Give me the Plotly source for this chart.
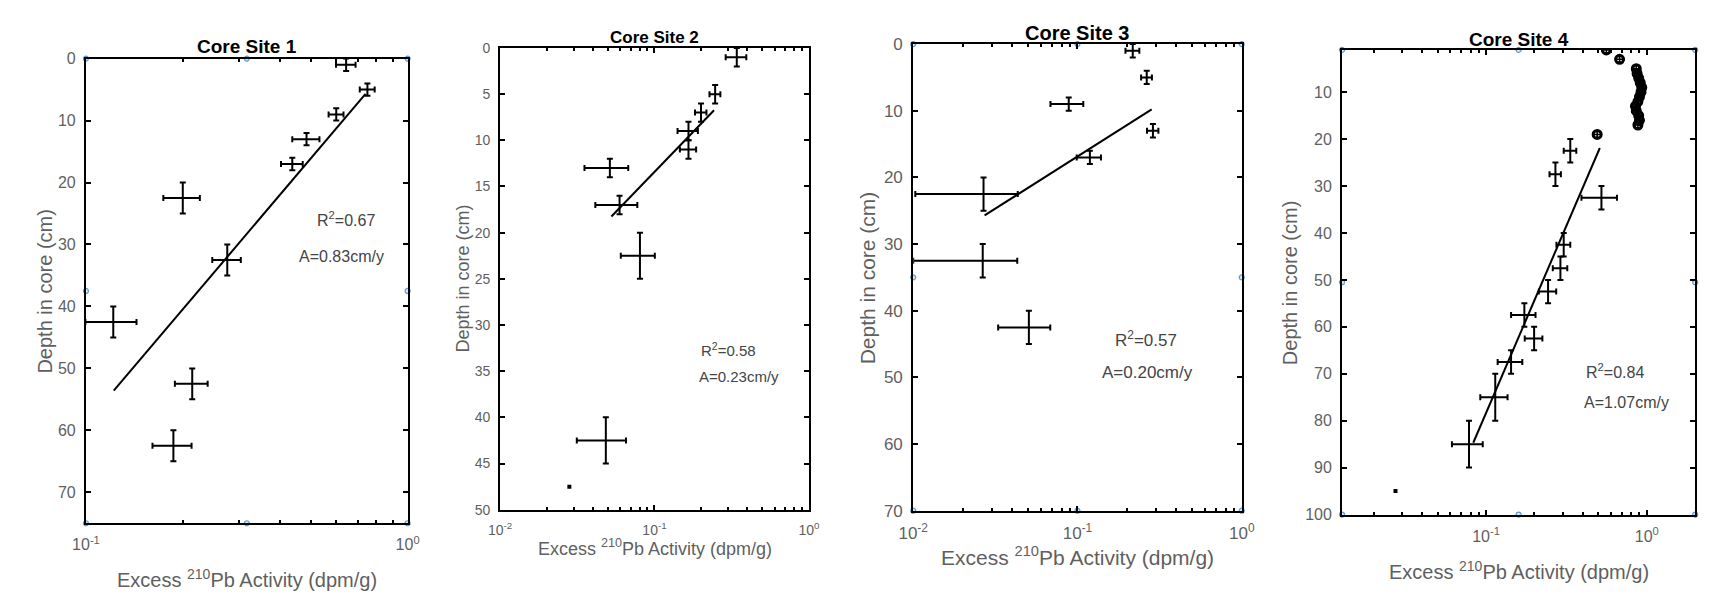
import math
import plotly.graph_objects as go

# ---------------- data ----------------
# Core Site 1
p1_x = [0.644, 0.75, 0.60, 0.485, 0.438, 0.20, 0.275, 0.1216, 0.214, 0.187]
p1_y = [1, 5, 9, 13, 17, 22.5, 32.5, 42.5, 52.5, 62.5]
p1_xerr = [0.045, 0.04, 0.032, 0.047, 0.034, 0.026, 0.028, 0.022, 0.025, 0.026]
p1_yerr = [1, 1, 1, 1, 1, 2.5, 2.5, 2.5, 2.5, 2.5]
p1_fit_x = [0.122, 0.74]
p1_fit_y = [53.6, 5.7]

# Core Site 2
p2_x = [0.341, 0.247, 0.20, 0.166, 0.166, 0.0514, 0.0594, 0.0805, 0.0484]
p2_y = [1, 5, 7, 9, 11, 13, 17, 22.5, 42.5]
p2_xerr = [0.052, 0.02, 0.017, 0.025, 0.02, 0.0162, 0.018, 0.02, 0.017]
p2_yerr = [1, 1, 1, 1, 1, 1, 1, 2.5, 2.5]
p2_dot_x = [0.0281]
p2_dot_y = [47.5]
p2_fit_x = [0.0526, 0.243]
p2_fit_y = [18.25, 6.75]

# Core Site 3
p3_x = [0.217, 0.264, 0.0885, 0.288, 0.119, 0.0268, 0.0265, 0.0506]
p3_y = [1, 5, 9, 13, 17, 22.5, 32.5, 42.5]
p3_xerr = [0.021, 0.02, 0.02, 0.023, 0.02, 0.0165, 0.0165, 0.0177]
p3_yerr = [1, 1, 1, 1, 1, 2.5, 2.5, 2.5]
p3_fit_x = [0.0272, 0.283]
p3_fit_y = [25.7, 9.8]

# Core Site 4
p4_x = [0.334, 0.27, 0.522, 0.304, 0.29, 0.243, 0.173, 0.199, 0.143, 0.114, 0.0783]
p4_y = [22.5, 27.5, 32.5, 42.5, 47.5, 52.5, 57.5, 62.5, 67.5, 75, 85]
p4_xerr = [0.03, 0.022, 0.13, 0.03, 0.03, 0.03, 0.03, 0.025, 0.025, 0.022, 0.017]
p4_yerr = [2.5, 2.5, 2.5, 2.5, 2.5, 2.5, 2.5, 2.5, 2.5, 5, 5]
p4_circ_x = [0.56, 0.677, 0.86, 0.87, 0.89, 0.91, 0.93, 0.92, 0.90, 0.88, 0.85, 0.86, 0.89, 0.90, 0.88, 0.491]
p4_circ_y = [1, 3, 5, 6, 7, 8, 9, 10, 11, 12, 13, 14, 15, 16, 17, 19]
p4_circ_xerr = [0.03] * 16
p4_circ_yerr = [0.6] * 16
p4_dot_x = [0.0273]
p4_dot_y = [95]
p4_fit_x = [0.0832, 0.51]
p4_fit_y = [84.7, 21.9]

titles = ["Core Site 1", "Core Site 2", "Core Site 3", "Core Site 4"]
r2_text = ["R<sup>2</sup>=0.67", "R<sup>2</sup>=0.58", "R<sup>2</sup>=0.57", "R<sup>2</sup>=0.84"]
a_text = ["A=0.83cm/y", "A=0.23cm/y", "A=0.20cm/y", "A=1.07cm/y"]
x_label = "Excess <sup>210</sup>Pb Activity (dpm/g)"
y_label = "Depth in core (cm)"

x_ranges = [[0.1, 1.0], [0.01, 1.0], [0.01, 1.0], [0.0127, 2.0]]
y_ranges = [[0, 75], [0, 50], [0, 70], [1, 100]]
y_dticks = [10, 5, 10, 10]
y_tick0 = [0, 0, 0, 10]
x_major_ticks = [[0.1, 1.0], [0.01, 0.1, 1.0], [0.01, 0.1, 1.0], [0.1, 1.0]]
x_major_text = {0.01: "10<sup>-2</sup>", 0.1: "10<sup>-1</sup>", 1.0: "10<sup>0</sup>"}
minor_digits = [2, 3, 4, 5, 6, 7, 8, 9]
decades = [0.01, 0.1, 1.0]
handles = [True, False, True, True]

# ---------------- layout geometry (pixels) ----------------
W, H = 1712, 594
frames = [(64, 391, 43, 523), (485, 799, 32, 509), (905, 1239, 28, 510), (1341, 1700, 34, 514)]
title_y = [30, 21, 17, 23]
xlab_y = [580, 548, 557, 572]
ylab_x = [22, 447, 858, 1288]
scale = [1.0, 0.88, 1.04, 1.0]
r2_pos = [(0.807, 0.655), (0.739, 0.348), (0.71, 0.368), (0.774, 0.31)]
a_pos = [(0.794, 0.574), (0.774, 0.288), (0.713, 0.297), (0.805, 0.241)]

FONT = "Liberation Sans, Arial, sans-serif"
GRAY = "#5f5f5f"

fig = go.Figure()

def err_trace(x, y, xe, ye, k):
    return go.Scatter(
        x=x, y=y, mode="markers",
        marker=dict(size=2, color="black"),
        error_x=dict(type="data", array=xe, color="black", thickness=2, width=3),
        error_y=dict(type="data", array=ye, color="black", thickness=2, width=3),
        xaxis=f"x{k}", yaxis=f"y{k}", showlegend=False)

def line_trace(x, y, k):
    return go.Scatter(x=x, y=y, mode="lines", line=dict(color="black", width=2),
                      xaxis=f"x{k}", yaxis=f"y{k}", showlegend=False)

def dot_trace(x, y, k):
    return go.Scatter(x=x, y=y, mode="markers",
                      marker=dict(symbol="square", size=4, color="black"),
                      xaxis=f"x{k}", yaxis=f"y{k}", showlegend=False)

fig.add_trace(err_trace(p1_x, p1_y, p1_xerr, p1_yerr, ""))
fig.add_trace(line_trace(p1_fit_x, p1_fit_y, ""))
fig.add_trace(err_trace(p2_x, p2_y, p2_xerr, p2_yerr, 2))
fig.add_trace(dot_trace(p2_dot_x, p2_dot_y, 2))
fig.add_trace(line_trace(p2_fit_x, p2_fit_y, 2))
fig.add_trace(err_trace(p3_x, p3_y, p3_xerr, p3_yerr, 3))
fig.add_trace(line_trace(p3_fit_x, p3_fit_y, 3))
fig.add_trace(err_trace(p4_x, p4_y, p4_xerr, p4_yerr, 4))
fig.add_trace(go.Scatter(
    x=p4_circ_x, y=p4_circ_y, mode="markers",
    marker=dict(symbol="circle-open", size=8, color="black", line=dict(width=3, color="black")),
    error_x=dict(type="data", array=p4_circ_xerr, color="black", thickness=1.5, width=2),
    error_y=dict(type="data", array=p4_circ_yerr, color="black", thickness=1.5, width=2),
    xaxis="x4", yaxis="y4", showlegend=False))
fig.add_trace(dot_trace(p4_dot_x, p4_dot_y, 4))
fig.add_trace(line_trace(p4_fit_x, p4_fit_y, 4))

# selection-handle markers on the frames
for i in range(4):
    if not handles[i]:
        continue
    k = "" if i == 0 else str(i + 1)
    xl, xr = x_ranges[i]
    yb, yt = y_ranges[i]
    xm = 10 ** ((math.log10(xl) + math.log10(xr)) / 2)
    ym = (yb + yt) / 2
    hx = [xl, xm, xr, xl, xr, xl, xm, xr]
    hy = [yb, yb, yb, ym, ym, yt, yt, yt]
    fig.add_trace(go.Scatter(
        x=hx, y=hy, mode="markers", cliponaxis=False,
        marker=dict(symbol="circle", size=5, color="#d6e6f5", line=dict(color="#5b9bd5", width=1.2)),
        xaxis=f"x{k}", yaxis=f"y{k}", showlegend=False, hoverinfo="skip"))

layout = dict(
    width=W, height=H, margin=dict(l=0, r=0, t=0, b=0),
    paper_bgcolor="white", plot_bgcolor="white",
    font=dict(family=FONT, size=14, color=GRAY),
    showlegend=False,
)
annotations = []
for i in range(4):
    k = "" if i == 0 else str(i + 1)
    l, r, t, b = frames[i]
    s = scale[i]
    xl, xr = x_ranges[i]
    lo, hi = math.log10(xl), math.log10(xr)
    minor_vals = [d * m for d in decades for m in minor_digits
                  if lo <= math.log10(d * m) <= hi]
    axis_common = dict(showline=True, linecolor="black", linewidth=2, mirror="ticks",
                       ticks="inside", ticklen=5, tickwidth=1.5, tickcolor="black",
                       showgrid=False, zeroline=False,
                       tickfont=dict(family=FONT, size=round(16 * s), color=GRAY))
    layout[f"xaxis{k}"] = dict(
        domain=[l / W, r / W], anchor=f"y{k}", type="log", range=[lo, hi],
        tickmode="array", tickvals=x_major_ticks[i],
        ticktext=[x_major_text[v] for v in x_major_ticks[i]],
        ticklabelstandoff=6,
        minor=dict(tickmode="array", tickvals=minor_vals, ticks="inside", ticklen=3,
                   tickwidth=1.5, tickcolor="black", showgrid=False),
        **axis_common)
    layout[f"yaxis{k}"] = dict(
        domain=[1 - b / H, 1 - t / H], anchor=f"x{k}",
        range=[y_ranges[i][1], y_ranges[i][0]],
        tick0=y_tick0[i], dtick=y_dticks[i], ticklabelstandoff=5,
        **axis_common)
    cx = (l + r) / 2 / W
    annotations.append(dict(text=f"<b>{titles[i]}</b>", xref="paper", yref="paper",
                            x=cx, y=1 - title_y[i] / H, xanchor="center", yanchor="middle",
                            showarrow=False, font=dict(family=FONT, size=round(19 * s), color="black")))
    annotations.append(dict(text=x_label, xref="paper", yref="paper",
                            x=cx, y=1 - xlab_y[i] / H, xanchor="center", yanchor="middle",
                            showarrow=False, font=dict(family=FONT, size=round(20 * s), color=GRAY)))
    annotations.append(dict(text=y_label, xref="paper", yref="paper",
                            x=ylab_x[i] / W, y=1 - (t + b) / 2 / H, xanchor="center", yanchor="middle",
                            textangle=-90, showarrow=False,
                            font=dict(family=FONT, size=round(20 * s), color=GRAY)))
    annotations.append(dict(text=r2_text[i], xref=f"x{k} domain", yref=f"y{k} domain",
                            x=r2_pos[i][0], y=r2_pos[i][1], xanchor="center", yanchor="middle",
                            showarrow=False, font=dict(family=FONT, size=round(16.5 * s), color="#444444")))
    annotations.append(dict(text=a_text[i], xref=f"x{k} domain", yref=f"y{k} domain",
                            x=a_pos[i][0], y=a_pos[i][1], xanchor="center", yanchor="middle",
                            showarrow=False, font=dict(family=FONT, size=round(16.5 * s), color="#444444")))
layout["annotations"] = annotations
fig.update_layout(**layout)

fig.write_html("out.html")
